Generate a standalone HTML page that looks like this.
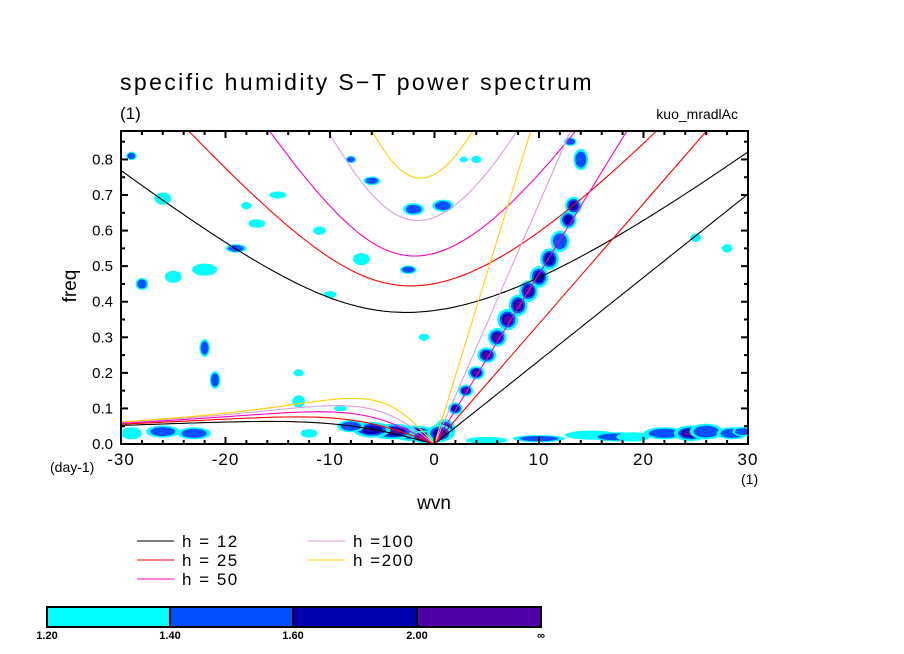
<!DOCTYPE html>
<html><head><meta charset="utf-8"><style>
body{margin:0;background:#fff;}
svg{display:block;font-family:"Liberation Sans","DejaVu Sans",sans-serif;}
</style></head><body>
<svg id="c" width="904" height="654" viewBox="0 0 904 654">
<text x="120" y="90" font-size="23" letter-spacing="2.4">specific humidity S−T power spectrum</text>
<text x="120" y="119" font-size="17">(1)</text>
<text x="738" y="119" font-size="14" text-anchor="end">kuo_mradlAc</text>
<g id="blobs"></g>
<g id="curves"></g>
<g id="axes"></g>
<text x="0" y="0" font-size="19" transform="translate(76,286) rotate(-90)" text-anchor="middle">freq</text>
<text x="434" y="509" font-size="19" text-anchor="middle">wvn</text>
<text x="50" y="472" font-size="14">(day-1)</text>
<text x="741" y="484" font-size="14">(1)</text>
<g id="legend"></g>
<g id="cbar"></g>
</svg>
<script>
const depths=[12,25,50,100,200];
const depthColors=["#000000","#ff0000","#ff00c0","#d8a0d8","#ffd000"];
const xTicks=[-30,-20,-10,0,10,20,30];
const yTicks=[0,0.1,0.2,0.3,0.4,0.5,0.6,0.7,0.8];
const cbLevels=["1.20","1.40","1.60","2.00","∞"];
const cbColors=["#00ffff","#0050ff","#0000b0","#5000a8"];
// blobs: wavenumber, frequency, half-width(wvn), half-height(freq), level 0..3
const blobWvn=[1,2,3,4,5,6,7,8,9,10,11,12,12.8,13.3,14,-2,-4,-6,-8,-1,0.5,5,10,15,17.5,19,22,24.5,26,28.5,29.5,-29,-26,-23,-22,-21,-12,-7,-28,-25,-13,-19,-26,-29,-22,-17,-8,-6,-2,0.8,-2.5,4,13,28,25,-1,-15,-13,-9,-18,-10,2.8,-11];
const blobFrq=[0.04,0.1,0.15,0.2,0.25,0.3,0.35,0.39,0.43,0.47,0.52,0.57,0.63,0.67,0.8,0.03,0.035,0.04,0.05,0.02,0.03,0.01,0.015,0.025,0.02,0.02,0.03,0.03,0.035,0.03,0.035,0.03,0.035,0.03,0.27,0.18,0.03,0.52,0.45,0.47,0.12,0.55,0.69,0.81,0.49,0.62,0.8,0.74,0.66,0.67,0.49,0.8,0.85,0.55,0.58,0.3,0.7,0.2,0.1,0.67,0.42,0.8,0.6];
const blobW=[1.0,0.7,0.7,0.8,0.9,0.9,1.0,0.9,0.9,0.9,0.9,0.9,0.8,0.8,0.7,2.2,2.2,1.8,1.3,1.3,1.2,2.0,2.5,2.5,2.5,1.6,2.0,1.6,1.6,1.5,1.0,1.0,1.6,1.6,0.5,0.5,0.8,0.8,0.6,0.8,0.6,1.0,0.8,0.5,1.2,0.8,0.5,0.8,1.0,1.0,0.8,0.5,0.6,0.5,0.5,0.5,0.8,0.5,0.6,0.5,0.6,0.4,0.6];
const blobH=[0.03,0.017,0.017,0.019,0.022,0.026,0.03,0.03,0.03,0.03,0.03,0.03,0.025,0.025,0.03,0.022,0.022,0.022,0.017,0.018,0.025,0.01,0.01,0.013,0.013,0.013,0.017,0.022,0.022,0.017,0.013,0.017,0.017,0.017,0.025,0.025,0.012,0.017,0.017,0.017,0.017,0.012,0.017,0.012,0.017,0.012,0.01,0.012,0.017,0.017,0.012,0.01,0.012,0.012,0.012,0.01,0.01,0.01,0.008,0.01,0.01,0.008,0.012];
const blobLvl=[3,2,3,3,3,3,3,3,3,2,2,1,2,2,1,3,3,2,1,3,2,0,1,0,1,0,1,3,1,1,1,0,1,1,1,1,0,0,1,0,0,1,0,1,0,0,1,1,1,1,1,0,1,0,0,0,0,0,0,0,0,0,0];

const NS="http://www.w3.org/2000/svg";
const X0=121,X1=748,Y0=444,Y1=131,FMAX=0.88;
function xs(w){return X0+(w+30)/60*(X1-X0);}
function ys(f){return Y0-f/FMAX*(Y0-Y1);}
function mk(tag,attrs,parent){const e=document.createElementNS(NS,tag);for(const k in attrs)e.setAttribute(k,attrs[k]);parent.appendChild(e);return e;}
const svg=document.getElementById('c');
const defs=mk('defs',{},svg);
const cp=mk('clipPath',{id:'clip'},defs);
mk('rect',{x:X0,y:Y1,width:X1-X0,height:Y0-Y1},cp);
const gB=document.getElementById('blobs');gB.setAttribute('clip-path','url(#clip)');
const scales=[1,0.75,0.55,0.4];
for(let i=0;i<blobWvn.length;i++){
  for(let l=0;l<=blobLvl[i];l++){
    const e=mk('ellipse',{cx:xs(blobWvn[i]),cy:ys(blobFrq[i]),rx:blobW[i]*scales[l]*(X1-X0)/60,ry:blobH[i]*scales[l]*(Y0-Y1)/FMAX,fill:cbColors[l]},gB);
    
    
  }
}
const a=6.371e6,beta=2*7.292e-5/a,toCpd=86400/(2*Math.PI);
function roots(s,c){const k=s/a;const p=-(c*c*k*k+3*beta*c),q=-beta*c*c*k;
  const m=2*Math.sqrt(-p/3);const th=Math.acos(Math.max(-1,Math.min(1,3*q/(2*p)*Math.sqrt(-3/p))))/3;
  const r=[0,1,2].map(j=>m*Math.cos(th-2*Math.PI*j/3));r.sort((x,y)=>x-y);return r;}
const gC=document.getElementById('curves');gC.setAttribute('clip-path','url(#clip)');
depths.forEach((h,i)=>{
  const c=Math.sqrt(9.81*h);let ig=[],ro=[],kv=[];
  for(let s=-30;s<=30.001;s+=0.25){
    const r=roots(s===0?1e-6:s,c);
    ig.push([xs(s),ys(r[2]*toCpd)]);
    if(s<=0)ro.push([xs(s),ys(Math.max(0,r[1])*toCpd)]);
    if(s>=0)kv.push([xs(s),ys(c*s/a*toCpd)]);
  }
  [[ig,'ig-curve-h'],[ro,'rossby-curve-h'],[kv,'kelvin-line-h']].forEach(([pts,nm])=>{
    const p=mk('polyline',{points:pts.map(q=>q[0].toFixed(1)+','+q[1].toFixed(1)).join(' '),fill:'none',stroke:depthColors[i],'stroke-width':1.1},gC);
    
    
  });
});
const gA=document.getElementById('axes');
mk('rect',{x:X0,y:Y1,width:X1-X0,height:Y0-Y1,fill:'none',stroke:'#000','stroke-width':2},gA);
for(let w=-30;w<=30;w+=2){const maj=(w%10===0);const L=maj?7:4;const x=xs(w);
  mk('line',{x1:x,y1:Y0,x2:x,y2:Y0-L,stroke:'#000','stroke-width':2},gA);
  mk('line',{x1:x,y1:Y1,x2:x,y2:Y1+L,stroke:'#000','stroke-width':2},gA);}
xTicks.forEach(w=>{const t=mk('text',{x:xs(w),y:Y0+21,'font-size':17,'text-anchor':'middle','letter-spacing':1},gA);t.textContent=w;
  });
for(let f=0;f<=0.8501;f+=0.05){const maj=Math.abs(f*10-Math.round(f*10))<1e-6;const L=maj?7:4;const y=ys(f);
  mk('line',{x1:X0,y1:y,x2:X0+L,y2:y,stroke:'#000','stroke-width':2},gA);
  mk('line',{x1:X1,y1:y,x2:X1-L,y2:y,stroke:'#000','stroke-width':2},gA);}
yTicks.forEach(f=>{const t=mk('text',{x:X0-8,y:ys(f)+5,'font-size':15,'text-anchor':'end'},gA);t.textContent=f.toFixed(1);
  });
const gL=document.getElementById('legend');
const lx=[137,137,137,308,308],ly=[541,560,579,541,560];
depths.forEach((h,i)=>{
  const g=mk('g',{},gL);
  
  
  mk('line',{x1:lx[i],y1:ly[i],x2:lx[i]+37,y2:ly[i],stroke:depthColors[i],'stroke-width':1},g);
  const t=mk('text',{x:lx[i]+45,y:ly[i]+6,'font-size':17,'letter-spacing':1.5,'xml:space':'preserve'},g);
  t.textContent=h<100?('h = '+h):('h ='+h);
});
const gCb=document.getElementById('cbar');
const cbx=[47,170,293,417,541];
for(let i=0;i<4;i++){const r=mk('rect',{x:cbx[i],y:607,width:cbx[i+1]-cbx[i],height:20,fill:cbColors[i],stroke:'#000','stroke-width':2},gCb);
  }
cbLevels.forEach((s,i)=>{const t=mk('text',{x:cbx[i],y:639,'font-size':11,'font-weight':'bold','text-anchor':'middle'},gCb);t.textContent=s;
  });
</script>
</body></html>
